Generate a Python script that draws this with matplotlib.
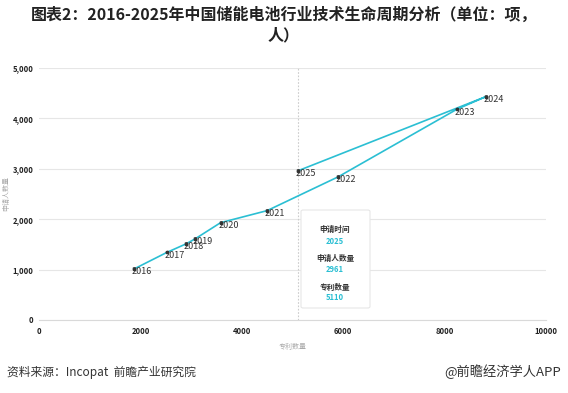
import matplotlib
matplotlib.use("Agg")
import matplotlib.pyplot as plt

plt.rcParams['font.family'] = ['Noto Sans CJK SC', 'DejaVu Sans']

# 数据（按年份顺序）
years = ['2016', '2017', '2018', '2019', '2020', '2021', '2022', '2023', '2024', '2025']
patents = [1870, 2520, 2900, 3080, 3580, 4500, 5900, 8240, 8810, 5110]      # 专利数量
applicants = [1010, 1340, 1510, 1610, 1930, 2170, 2840, 4180, 4430, 2961]  # 申请人数量

line_color = '#2bbfd3'

fig = plt.figure(figsize=(5.68, 3.93), dpi=100)
ax = fig.add_axes([0.0687, 0.1858, 0.8926, 0.6412])

ax.plot(patents, applicants, color=line_color, linewidth=1.2, zorder=3)
ax.scatter(patents, applicants, s=3, color='#333333', zorder=4)
for x, y, t in zip(patents, applicants, years):
    ax.annotate(t, (x, y), xytext=(-1.5, -2), textcoords='offset points',
                fontsize=6.5, color='#333333', va='center', ha='left', zorder=5)

ax.set_xlim(0, 10000)
ax.set_ylim(0, 5000)
ax.set_xticks([0, 2000, 4000, 6000, 8000, 10000])
ax.set_yticks([0, 1000, 2000, 3000, 4000, 5000])
ax.set_yticklabels(['0', '1,000', '2,000', '3,000', '4,000', '5,000'])
ax.tick_params(axis='both', length=0, labelsize=5.5, colors='#222222')
for lb in ax.get_xticklabels() + ax.get_yticklabels():
    lb.set_fontweight('bold')
ax.tick_params(axis='x', pad=5)
ax.tick_params(axis='y', pad=4)
ax.grid(axis='y', color='#e6e6e6', linewidth=0.8)
ax.set_axisbelow(True)
for s in ['top', 'right', 'left']:
    ax.spines[s].set_visible(False)
ax.spines['bottom'].set_color('#d9d9d9')

ax.set_xlabel('专利数量', fontsize=5, color='#aaaaaa', labelpad=5)
ax.set_ylabel('申请人数量', fontsize=5, color='#aaaaaa')
ax.yaxis.set_label_coords(-0.056, 0.5)

# 提示框指示线
ax.axvline(patents[-1], color='#cccccc', linestyle=(0, (1.5, 1.5)), linewidth=0.8, zorder=2)

# 提示框
box = matplotlib.patches.FancyBboxPatch((301 / 568, 85 / 393), 69 / 568, 98 / 393,
                                        boxstyle='round,pad=0,rounding_size=0.004',
                                        transform=fig.transFigure, facecolor='white',
                                        edgecolor='#e6e6e6', linewidth=0.8, zorder=6)
fig.patches.append(box)
tip = [('申请时间', 229, '#333333'), (years[-1], 241, line_color),
       ('申请人数量', 258, '#333333'), (str(applicants[-1]), 270, line_color),
       ('专利数量', 287, '#333333'), (str(patents[-1]), 298, line_color)]
for t, py, c in tip:
    fig.text(335 / 568, 1 - py / 393, t, fontsize=5.5, fontweight='bold', color=c,
             ha='center', va='center', zorder=7)

fig.text(0.5, 1 - 15 / 393, '图表2：2016-2025年中国储能电池行业技术生命周期分析（单位：项，',
         fontsize=11.5, fontweight='bold', ha='center', va='center', color='#222222')
fig.text(0.5, 1 - 35 / 393, '人）', fontsize=11.5, fontweight='bold', ha='center', va='center',
         color='#222222')

fig.text(7 / 568, 1 - 372 / 393, '资料来源：Incopat  前瞻产业研究院', fontsize=8.5,
         ha='left', va='center', color='#333333')
fig.text(561 / 568, 1 - 372 / 393, '@前瞻经济学人APP', fontsize=9.5,
         ha='right', va='center', color='#333333')

fig.savefig('out.png', dpi=100)
